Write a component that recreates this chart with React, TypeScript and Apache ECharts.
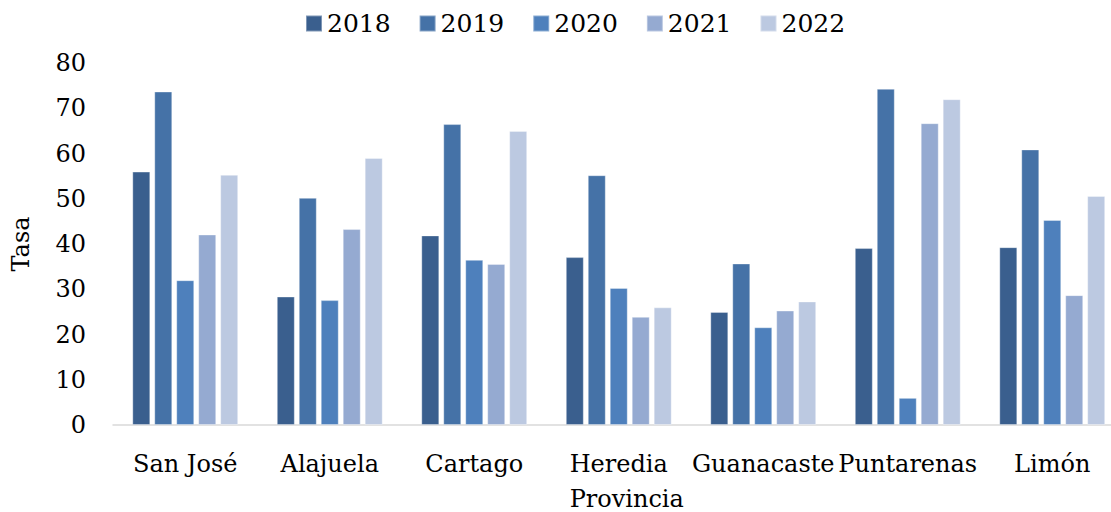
import React, { useEffect, useRef } from "react";
import * as echarts from "echarts";

const provinces = ["San José", "Alajuela", "Cartago", "Heredia", "Guanacaste", "Puntarenas", "Limón"];
const years = ["2018", "2019", "2020", "2021", "2022"];
const v2018 = [56.0, 28.4, 41.9, 37.1, 25.0, 39.1, 39.3];
const v2019 = [73.7, 50.2, 66.5, 55.2, 35.7, 74.3, 60.9];
const v2020 = [32.0, 27.6, 36.5, 30.3, 21.6, 6.0, 45.3];
const v2021 = [42.1, 43.3, 35.6, 23.9, 25.3, 66.7, 28.7];
const v2022 = [55.3, 59.0, 65.0, 26.0, 27.3, 72.0, 50.6];
const yTicks = [0, 10, 20, 30, 40, 50, 60, 70, 80];
const colors = ["#3a5f8e", "#4572a7", "#4e80bc", "#95aad1", "#bcc9e1"];

const FONT = "DejaVu Serif";

export default function App() {
  const ref = useRef<HTMLDivElement>(null);
  useEffect(() => {
    document.body.style.margin = "0";
    const chart = echarts.init(ref.current!, null, { renderer: "svg" });
    const data = [v2018, v2019, v2020, v2021, v2022];
    chart.setOption({
      animation: false,
      textStyle: { fontFamily: FONT },
      legend: {
        data: years,
        top: 6,
        left: 300,
        itemWidth: 16,
        itemHeight: 16,
        itemGap: 28,
        icon: "rect",
        textStyle: { fontFamily: FONT, fontSize: 25, color: "#000" },
      },
      grid: {
        left: 113,
        right: -13.5,
        top: 63,
        bottom: 87,
        containLabel: false,
        outerBoundsMode: "none",
      },
      xAxis: {
        type: "category",
        data: provinces,
        name: "Provincia",
        nameLocation: "middle",
        nameGap: 62,
        nameTextStyle: { fontFamily: FONT, fontSize: 24, color: "#000", padding: [0, 0, 0, 16] },
        axisLine: { lineStyle: { color: "#d9d9d9", width: 1.5 } },
        axisTick: { show: false },
        axisLabel: { fontFamily: FONT, fontSize: 24, color: "#000", margin: 27, interval: 0 },
      },
      yAxis: {
        type: "value",
        min: yTicks[0],
        max: yTicks[yTicks.length - 1],
        interval: 10,
        name: "Tasa",
        nameLocation: "middle",
        nameGap: 80,
        nameTextStyle: { fontFamily: FONT, fontSize: 24, color: "#000" },
        axisLine: { show: false },
        axisTick: { show: false },
        splitLine: { show: false },
        axisLabel: { fontFamily: FONT, fontSize: 24, color: "#000", margin: 27 },
      },
      series: years.map((y, i) => ({
        name: y,
        type: "bar",
        data: data[i],
        barGap: "22%",
        barCategoryGap: "26.7%",
        itemStyle: { color: colors[i], borderColor: "rgba(255,255,255,0.35)", borderWidth: 1 },
      })),
    });
    return () => chart.dispose();
  }, []);
  return <div ref={ref} style={{ width: 1111, height: 512 }} />;
}
